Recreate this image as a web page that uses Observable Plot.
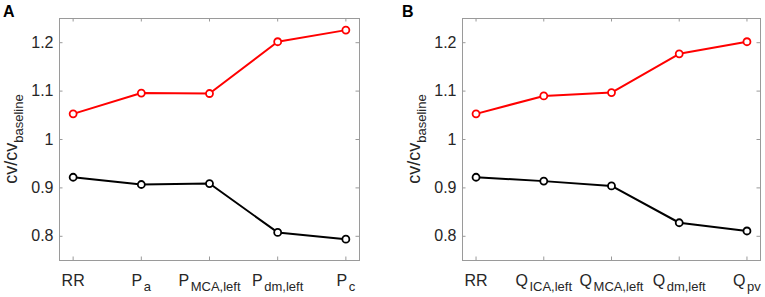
<!DOCTYPE html>
<html><head><meta charset="utf-8">
<script src="https://cdn.jsdelivr.net/npm/d3@7"></script>
<script src="https://cdn.jsdelivr.net/npm/@observablehq/plot@0.6"></script>
<style>
body{margin:0;background:#fff;}
#wrap{position:relative;width:765px;height:297px;overflow:hidden;background:#fff;}
#wrap svg{position:absolute;top:0;}
</style></head><body><div id="wrap"></div>
<script>
const labelsA = ["RR", "P_a", "P_MCA,left", "P_dm,left", "P_c"];
const redA = [1.053, 1.096, 1.095, 1.202, 1.226];
const blackA = [0.922, 0.907, 0.909, 0.808, 0.794];
const labelsB = ["RR", "Q_ICA,left", "Q_MCA,left", "Q_dm,left", "Q_pv"];
const redB = [1.053, 1.090, 1.097, 1.177, 1.202];
const blackB = [0.922, 0.914, 0.904, 0.828, 0.811];
const yTicks = [0.8, 0.9, 1, 1.1, 1.2];
const yLabelMain = "cv/cv";
const yLabelSub = "baseline";

const FONT = "'Liberation Sans', Arial, Helvetica, sans-serif";
const W = 380, H = 297, MT = 18, MB = 37;
const XD = [0.8, 5.2], YD = [0.75, 1.25];
const BOX = "#9a9a9a";

function panel(name, labels, red, black, left, ml, mr) {
  const idx = labels.map((_, i) => i + 1);
  const pw = W - ml - mr, ph = H - MT - MB;
  const tx = 3.5 * (XD[1] - XD[0]) / pw, ty = 3.5 * (YD[1] - YD[0]) / ph;
  const rRows = red.map((v, i) => ({i: i + 1, v}));
  const bRows = black.map((v, i) => ({i: i + 1, v}));
  const svg = Plot.plot({
    width: W, height: H,
    marginLeft: ml, marginRight: mr, marginTop: MT, marginBottom: MB,
    x: {domain: XD}, y: {domain: YD},
    style: {fontFamily: FONT, color: "#262626", background: "white", overflow: "visible"},
    marks: [
      Plot.frame({stroke: BOX}),
      Plot.ruleX(idx, {x: d => d, y1: YD[0], y2: YD[0] + ty, stroke: BOX}),
      Plot.ruleX(idx, {x: d => d, y1: YD[1], y2: YD[1] - ty, stroke: BOX}),
      Plot.ruleY(yTicks, {y: d => d, x1: XD[0], x2: XD[0] + tx, stroke: BOX}),
      Plot.ruleY(yTicks, {y: d => d, x1: XD[1], x2: XD[1] - tx, stroke: BOX}),
      Plot.line(rRows, {x: "i", y: "v", stroke: "#ff0000", strokeWidth: 2}),
      Plot.dot(rRows, {x: "i", y: "v", r: 3.5, stroke: "#ff0000", fill: "white", strokeWidth: 1.8}),
      Plot.line(bRows, {x: "i", y: "v", stroke: "#000", strokeWidth: 2}),
      Plot.dot(bRows, {x: "i", y: "v", r: 3.5, stroke: "#000", fill: "white", strokeWidth: 1.8}),
      Plot.axisX({ticks: idx, tickFormat: i => labels[i - 1], tickSize: 0, tickPadding: 14, fontSize: 16, label: null}),
      Plot.axisY({ticks: yTicks, tickFormat: d => String(d), tickSize: 0, tickPadding: 6, fontSize: 16, label: null})
    ]
  });
  svg.style.left = left + "px";
  const s = d3.select(svg);
  s.selectAll('g[aria-label="x-axis tick label"] text').each(function() {
    const t = this.textContent;
    const k = t.indexOf("_");
    if (k < 0) return;
    const el = d3.select(this);
    el.text(null);
    el.append("tspan").text(t.slice(0, k));
    el.append("tspan").attr("font-size", 13).attr("dx", 1.5).attr("dy", 5).text(t.slice(k + 1));
  });
  const yl = s.append("text")
    .attr("transform", `translate(${ml - 42.5},${MT + ph / 2}) rotate(-90)`)
    .attr("text-anchor", "middle").attr("font-size", 18).attr("fill", "#262626")
    .attr("font-family", FONT);
  yl.append("tspan").text(yLabelMain);
  yl.append("tspan").attr("font-size", 13).attr("dy", 6).text(yLabelSub);
  s.append("text").attr("x", name === "A" ? 3 : 17).attr("y", 17)
    .attr("text-anchor", "start")
    .attr("font-size", 16).attr("font-weight", "bold").attr("fill", "#000")
    .attr("font-family", FONT).text(name);
  document.getElementById("wrap").appendChild(svg);
}

panel("A", labelsA, redA, blackA, 0, 59, 21);
panel("B", labelsB, redB, blackB, 385, 77, 5);
</script></body></html>
